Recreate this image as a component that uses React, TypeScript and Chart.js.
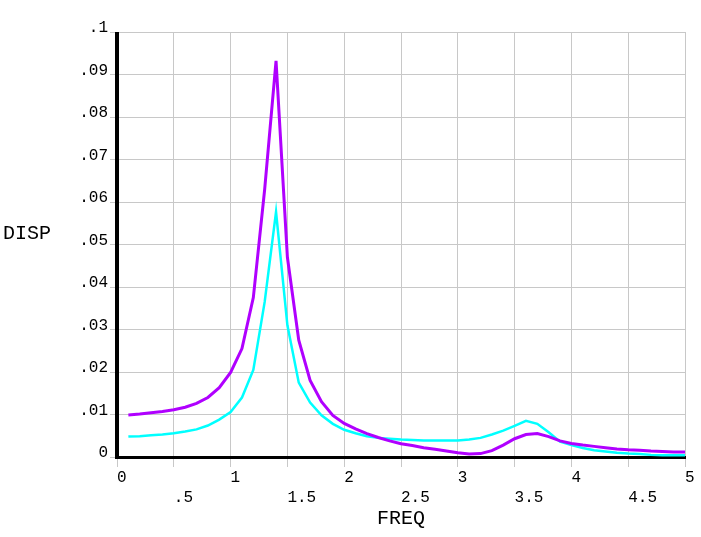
import React, { useEffect, useRef } from "react";
import { Chart, registerables } from "chart.js";

Chart.register(...registerables);

// ---- data ----
const FREQ = [
  0.1, 0.2, 0.3, 0.4, 0.5, 0.6, 0.7, 0.8, 0.9, 1.0,
  1.1, 1.2, 1.3, 1.4, 1.5, 1.6, 1.7, 1.8, 1.9, 2.0,
  2.1, 2.2, 2.3, 2.4, 2.5, 2.6, 2.7, 2.8, 2.9, 3.0,
  3.1, 3.2, 3.3, 3.4, 3.5, 3.6, 3.7, 3.8, 3.9, 4.0,
  4.1, 4.2, 4.3, 4.4, 4.5, 4.6, 4.7, 4.8, 4.9, 5.0,
];

const DISP_PURPLE = [
  0.0099, 0.0101, 0.0104, 0.0107, 0.0111, 0.0117, 0.0126, 0.0140, 0.0163, 0.0199,
  0.0255, 0.0375, 0.0630, 0.0932, 0.0470, 0.0275, 0.0180, 0.0130, 0.0098, 0.0079,
  0.0066, 0.0055, 0.0046, 0.0038, 0.0031, 0.0027, 0.0022, 0.0018, 0.0014, 0.0010,
  0.0007, 0.0008, 0.0015, 0.0028, 0.0043, 0.0053, 0.0055, 0.0048, 0.0038, 0.0032,
  0.0028, 0.0025, 0.0022, 0.0019, 0.0017, 0.0016, 0.0014, 0.0013, 0.0012, 0.0012,
];

const DISP_CYAN = [
  0.0048, 0.0049, 0.0051, 0.0053, 0.0056, 0.0060, 0.0065, 0.0074, 0.0088, 0.0106,
  0.0140, 0.0205, 0.0365, 0.0577, 0.0310, 0.0175, 0.0128, 0.0098, 0.0078, 0.0064,
  0.0056, 0.0049, 0.0045, 0.0043, 0.0041, 0.0040, 0.0039, 0.0039, 0.0039, 0.0039,
  0.0041, 0.0045, 0.0053, 0.0062, 0.0073, 0.0085, 0.0078, 0.0058, 0.0036, 0.0028,
  0.0021, 0.0016, 0.0013, 0.0010, 0.0008, 0.0007, 0.0005, 0.0004, 0.0004, 0.0004,
];

const X_TICKS = [0, 0.5, 1, 1.5, 2, 2.5, 3, 3.5, 4, 4.5, 5];
const X_TICK_LABELS = ["0", ".5", "1", "1.5", "2", "2.5", "3", "3.5", "4", "4.5", "5"];
const Y_TICKS = [0, 0.01, 0.02, 0.03, 0.04, 0.05, 0.06, 0.07, 0.08, 0.09, 0.1];
const Y_TICK_LABELS = ["0", ".01", ".02", ".03", ".04", ".05", ".06", ".07", ".08", ".09", ".1"];

const X_TITLE = "FREQ";
const Y_TITLE = "DISP";

const FONT = "'Liberation Mono', 'DejaVu Sans Mono', monospace";
const GRID = "#c8c8c8";

const axesPlugin = {
  id: "ansysAxes",
  beforeDatasetsDraw(chart: any) {
    const { ctx, chartArea } = chart;
    const { left, right, top, bottom } = chartArea;
    ctx.save();
    ctx.strokeStyle = "#000";
    ctx.lineCap = "butt";
    ctx.lineWidth = 4;
    ctx.beginPath();
    ctx.moveTo(left, top);
    ctx.lineTo(left, bottom + 2);
    ctx.stroke();
    ctx.lineWidth = 3;
    ctx.beginPath();
    ctx.moveTo(left - 2, bottom + 0.5);
    ctx.lineTo(right + 1, bottom + 0.5);
    ctx.stroke();
    ctx.restore();
  },
  afterDraw(chart: any) {
    const { ctx, chartArea } = chart;
    ctx.save();
    ctx.fillStyle = "#000";
    ctx.font = `20px ${FONT}`;
    ctx.textBaseline = "middle";
    ctx.textAlign = "left";
    ctx.fillText(Y_TITLE, 3, 234);
    ctx.textAlign = "center";
    ctx.fillText(X_TITLE, (chartArea.left + chartArea.right) / 2, 519);
    ctx.restore();
  },
};

export default function App() {
  const ref = useRef<HTMLCanvasElement | null>(null);

  useEffect(() => {
    if (!ref.current) return;
    const chart = new Chart(ref.current, {
      type: "line",
      data: {
        datasets: [
          {
            data: FREQ.map((f, i) => ({ x: f, y: DISP_PURPLE[i] })),
            borderColor: "#b000ff",
            borderWidth: 3,
            pointRadius: 0,
            tension: 0,
            fill: false,
          },
          {
            data: FREQ.map((f, i) => ({ x: f, y: DISP_CYAN[i] })),
            borderColor: "#00ffff",
            borderWidth: 2.5,
            pointRadius: 0,
            tension: 0,
            fill: false,
          },
        ],
      },
      options: {
        responsive: false,
        animation: false,
        devicePixelRatio: 1,
        layout: { padding: { left: 0, top: 32, right: 16, bottom: 0 } },
        plugins: {
          legend: { display: false },
          tooltip: { enabled: false },
          title: { display: false },
        },
        scales: {
          x: {
            type: "linear",
            min: 0,
            max: 5,
            afterFit: (s: any) => {
              s.height = 80;
            },
            afterBuildTicks: (s: any) => {
              s.ticks = X_TICKS.map((v) => ({ value: v }));
            },
            grid: {
              color: GRID,
              tickColor: GRID,
              lineWidth: 1,
              tickLength: 10,
              drawTicks: true,
            },
            border: { display: false },
            ticks: {
              align: "start",
              padding: 1,
              maxRotation: 0,
              autoSkip: false,
              color: "#000",
              font: { family: FONT, size: 16, lineHeight: 1.25 },
              callback: (_v: any, i: number) => (i % 2 === 0 ? X_TICK_LABELS[i] : ["", X_TICK_LABELS[i]]),
            },
          },
          y: {
            type: "linear",
            min: 0,
            max: 0.1,
            afterFit: (s: any) => {
              s.width = 117;
            },
            afterBuildTicks: (s: any) => {
              s.ticks = Y_TICKS.map((v) => ({ value: v }));
            },
            grid: {
              color: GRID,
              tickColor: GRID,
              lineWidth: 1,
              tickLength: 7,
            },
            border: { display: false },
            ticks: {
              padding: 2,
              labelOffset: -4,
              autoSkip: false,
              color: "#000",
              font: { family: FONT, size: 16, lineHeight: 1.25 },
              callback: (_v: any, i: number) => Y_TICK_LABELS[i],
            },
          },
        },
      },
      plugins: [axesPlugin],
    });
    return () => chart.destroy();
  }, []);

  return (
    <div style={{ position: "fixed", left: 0, top: 0, width: 701, height: 537, background: "#fff" }}>
      <canvas ref={ref} width={701} height={537} style={{ display: "block" }} />
    </div>
  );
}
